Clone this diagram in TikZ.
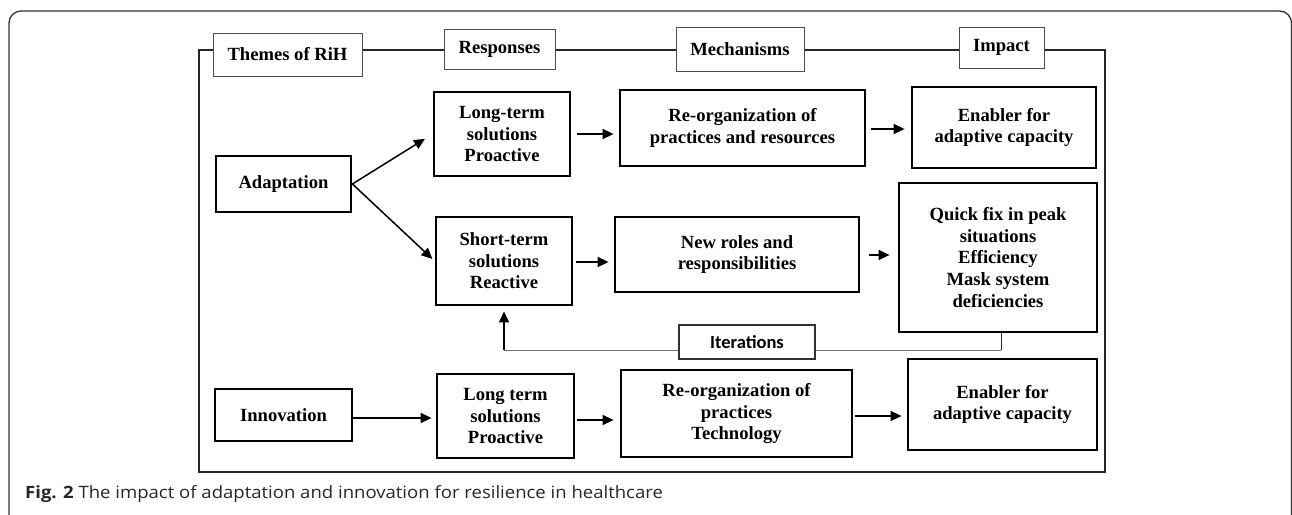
\documentclass[tikz,border=0pt]{standalone}
\usepackage{fontspec}
\setmainfont{Liberation Serif}
\newfontfamily\capfont{Open Sans}
\newfontfamily\itfont{Carlito}
\usetikzlibrary{arrows.meta,calc}
\begin{document}
\begin{tikzpicture}[x=1pt,y=-1pt,
  box/.style={draw=black,line width=2.8pt,align=center,inner sep=0pt,font=\fontsize{18.6}{21.6}\selectfont\bfseries},
  head/.style={draw=black!70,line width=1pt,align=center,inner sep=0pt,font=\fontsize{18.6}{21.6}\selectfont\bfseries},
  arr/.style={line width=1.5pt,draw=black,-{Triangle[length=11pt,width=10pt]}},
  frame/.style={line width=1.6pt,draw=black!85},
  iterline/.style={line width=1pt,draw=black!55},
  iterbox/.style={draw=black!80,line width=1.2pt,inner sep=0pt,font=\itfont\fontsize{18.5}{21}\selectfont\bfseries},
]
\useasboundingbox (0,0) rectangle (1292,514);
\clip (0,0) rectangle (1292,514);
% outer frame
\draw[line width=1.3pt,draw=black!80,rounded corners=12pt] (9,540) -- (9,11) -- (1291.5,11) -- (1291.5,540);

% headers
\node[head,minimum width=149pt,minimum height=43pt] (themes) at (287.5,54.5) {Themes of RiH};
\node[head,minimum width=111pt,minimum height=40pt] (resp) at (499.5,49) {Responses};
\node[head,minimum width=128pt,minimum height=44pt] (mech) at (740,49) {Mechanisms};
\node[head,minimum width=85pt,minimum height=41pt] (impact) at (1001.5,47.5) {Impact};

% inner frame
\coordinate (ftl) at (199,50);
\coordinate (fbl) at (199,472);
\coordinate (fbr) at (1105,472);
\coordinate (ftr) at (1105,50);
\draw[frame] (themes.west |- ftl) -- (ftl) -- (fbl) -- (fbr) -- (ftr) -- (impact.east |- ftr);
\draw[frame] (themes.east |- ftl) -- (resp.west |- ftl);
\draw[frame] (resp.east |- ftl) -- (mech.west |- ftl);
\draw[frame] (mech.east |- ftl) -- (impact.west |- ftl);

% boxes
\node[box,minimum width=135pt,minimum height=56pt] (adapt) at (283.5,184) {Adaptation};
\node[box,minimum width=136pt,minimum height=84pt] (lt1) at (502,134) {Long-term\\solutions\\Proactive};
\node[box,minimum width=136pt,minimum height=88pt] (st) at (504,261) {Short-term\\solutions\\Reactive};
\node[box,minimum width=245pt,minimum height=76pt] (reorg1) at (742.5,128) {Re-organization of\\practices and resources};
\node[box,minimum width=184pt,minimum height=81pt] (en1) at (1004,127.5) {Enabler for\\adaptive capacity};
\node[box,minimum width=244pt,minimum height=75pt] (roles) at (737,254.5) {\raisebox{5pt}{\begin{tabular}{@{}c@{}}New roles and\\responsibilities\end{tabular}}};
\node[box,minimum width=198pt,minimum height=149pt] (quick) at (998,257.5) {Quick fix in peak\\situations\\Efficiency\\Mask system\\deficiencies};
\node[box,minimum width=137pt,minimum height=52pt] (innov) at (283.5,415) {Innovation};
\node[box,minimum width=137pt,minimum height=84pt] (lt2) at (505.5,416) {Long term\\solutions\\Proactive};
\node[box,minimum width=231pt,minimum height=87pt] (reorg2) at (736.5,413.5) {Re-organization of\\practices\\Technology};
\node[box,minimum width=189pt,minimum height=91pt] (en2) at (1002.5,404.5) {Enabler for\\adaptive capacity};
\node[iterbox,minimum width=136pt,minimum height=34pt] (iter) at (747,342) {Iterations};

% arrows
\draw[arr,shorten >=9pt] (adapt.east) -- (lt1.west);
\draw[arr,shorten >=3pt] (adapt.east) -- (st.west);
\coordinate (y1) at (0,134);
\draw[arr,shorten <=6pt,shorten >=5pt] (lt1.east |- y1) -- (reorg1.west |- y1);
\coordinate (y2) at (0,129);
\draw[arr,shorten <=5pt,shorten >=6pt] (reorg1.east |- y2) -- (en1.west |- y2);
\coordinate (y3) at (0,262);
\draw[arr,shorten <=3pt,shorten >=5pt] (st.east |- y3) -- (roles.west |- y3);
\coordinate (y4) at (0,255);
\draw[arr,shorten <=9pt,shorten >=8pt] (roles.east |- y4) -- (quick.west |- y4);
\coordinate (y5) at (0,418);
\draw[arr,shorten >=4pt] (innov.east |- y5) -- (lt2.west |- y5);
\coordinate (y6) at (0,420);
\draw[arr,shorten <=2pt,shorten >=6pt] (lt2.east |- y6) -- (reorg2.west |- y6);
\coordinate (y7) at (0,416);
\draw[arr,shorten <=2pt,shorten >=5pt] (reorg2.east |- y7) -- (en2.west |- y7);

% iterations loop
\coordinate (iy) at (1001,350);
\draw[line width=1pt,draw=black!85] (quick.south -| iy) -- (iy);
\draw[iterline] (iy) -- (iter.east |- iy);
\draw[iterline] (iter.west |- iy) -- (st.south |- iy);
\draw[arr,line width=1.3pt,shorten >=5pt] (st.south |- iy) -- (st.south);

% caption
\node[anchor=west,inner sep=0pt,font=\capfont\fontsize{17}{20}\selectfont,text=black!85] (cap) at (25,494) {\scalebox{1.09}[1]{\textbf{Fig. 2} The impact of adaptation and innovation for resilience in healthcare}};
\end{tikzpicture}
\end{document}
